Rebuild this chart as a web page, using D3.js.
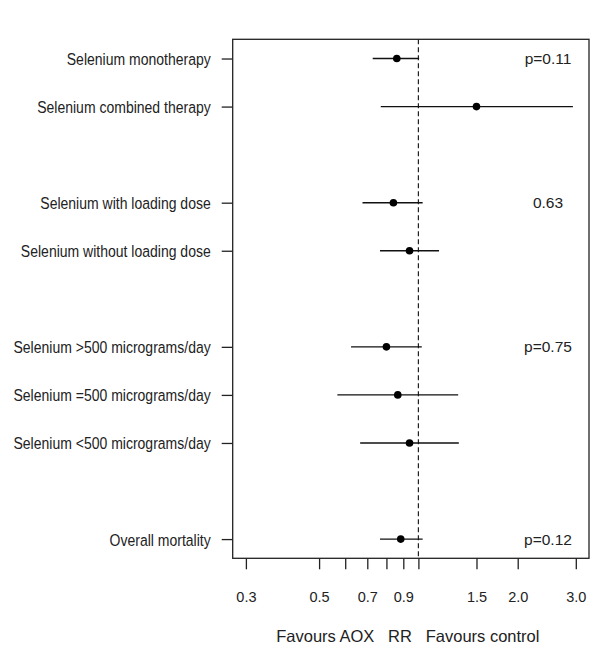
<!DOCTYPE html>
<html>
<head>
<meta charset="utf-8">
<script src="https://cdn.jsdelivr.net/npm/d3@7"></script>
<style>
  html, body { margin: 0; padding: 0; background: #fff; }
  text { font-family: "Liberation Sans", Arial, sans-serif; fill: #222; }
</style>
</head>
<body>
<svg id="chart" width="600" height="652"></svg>
<script>
// ---- data ----
const labels = [
  "Selenium monotherapy",
  "Selenium combined therapy",
  "Selenium with loading dose",
  "Selenium without loading dose",
  "Selenium >500 micrograms/day",
  "Selenium =500 micrograms/day",
  "Selenium <500 micrograms/day",
  "Overall mortality"
];
const rowPos = [10, 9, 7, 6, 4, 3, 2, 0];
const rr    = [0.86, 1.50, 0.84, 0.94, 0.80, 0.866, 0.94, 0.884];
const lower = [0.727, 0.769, 0.677, 0.765, 0.625, 0.568, 0.666, 0.765];
const upper = [1.005, 2.94, 1.03, 1.155, 1.024, 1.32, 1.326, 1.03];
const pLabels = ["p=0.11", "0.63", "p=0.75", "p=0.12"];
const pRows = [10, 7, 4, 0];
const tickValues = [0.3, 0.5, 0.6, 0.7, 0.8, 0.9, 1.0, 1.5, 2.0, 3.0];
const tickLabels = ["0.3", "0.5", "", "0.7", "", "0.9", "", "1.5", "2.0", "3.0"];
const xTitle = "Favours AOX   RR   Favours control";

// ---- layout ----
const svg = d3.select("#chart");
const box = { left: 232.7, right: 589, top: 39.3, bottom: 558.3 };
const FONT = '"Liberation Sans", Arial, sans-serif';

const ext = Math.exp(0.04 * Math.log(3 / 0.3));
const x = d3.scaleLog().domain([0.3 / ext, 3 * ext]).range([box.left, box.right]);
const y = d3.scaleLinear().domain([-0.4, 10.4]).range([box.bottom, box.top]);

// box
svg.append("rect")
  .attr("x", box.left).attr("y", box.top)
  .attr("width", box.right - box.left).attr("height", box.bottom - box.top)
  .attr("fill", "none").attr("stroke", "#222").attr("stroke-width", 1.3);

// reference line at 1
svg.append("line")
  .attr("x1", x(1)).attr("x2", x(1))
  .attr("y1", box.top).attr("y2", box.bottom)
  .attr("stroke", "#222").attr("stroke-width", 1.2)
  .attr("stroke-dasharray", "5,3");

// x axis (ticks only, no axis line)
const xAxis = d3.axisBottom(x)
  .tickValues(tickValues)
  .tickFormat((d, i) => tickLabels[i])
  .tickSize(11)
  .tickPadding(22);
const gx = svg.append("g").attr("transform", `translate(0,${box.bottom})`).call(xAxis);
gx.select(".domain").remove();
gx.selectAll(".tick line").attr("stroke", "#222").attr("stroke-width", 1.3);
gx.selectAll(".tick text").attr("font-size", 14.5).attr("fill", "#222")
  .style("font-family", FONT);

// y axis (ticks + labels)
const yAxis = d3.axisLeft(y)
  .tickValues(rowPos)
  .tickFormat(d => labels[rowPos.indexOf(d)])
  .tickSize(11)
  .tickPadding(11);
const gy = svg.append("g").attr("transform", `translate(${box.left},0)`).call(yAxis);
gy.select(".domain").remove();
gy.selectAll(".tick line").attr("stroke", "#222").attr("stroke-width", 1.3);
gy.selectAll(".tick text").attr("font-size", 14).attr("fill", "#222")
  .attr("dy", "0.38em")
  .attr("transform", "scale(1,1.12)")
  .style("font-family", FONT);

// CI lines
const data = labels.map((l, i) => ({ label: l, pos: rowPos[i], rr: rr[i], lo: lower[i], hi: upper[i] }));
svg.append("g").selectAll("line").data(data).join("line")
  .attr("x1", d => x(d.lo)).attr("x2", d => x(d.hi))
  .attr("y1", d => y(d.pos)).attr("y2", d => y(d.pos))
  .attr("stroke", "#111").attr("stroke-width", 1.4);

// points
svg.append("g").selectAll("circle").data(data).join("circle")
  .attr("cx", d => x(d.rr)).attr("cy", d => y(d.pos))
  .attr("r", 3.8).attr("fill", "#000");

// p-values
svg.append("g").selectAll("text").data(pLabels).join("text")
  .attr("x", 548).attr("y", (d, i) => y(pRows[i]))
  .attr("dy", "0.35em").attr("text-anchor", "middle")
  .attr("font-size", 15.5)
  .text(d => d);

// x title
svg.append("text")
  .attr("x", (box.left + box.right) / 2 - 3).attr("y", 636)
  .attr("dy", "0.35em").attr("text-anchor", "middle")
  .attr("font-size", 16.5)
  .attr("xml:space", "preserve")
  .style("white-space", "pre")
  .text(xTitle);
</script>
</body>
</html>
